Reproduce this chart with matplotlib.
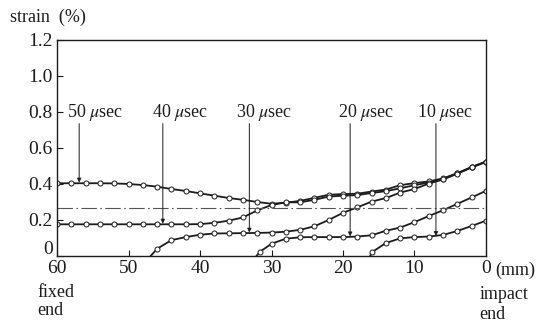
import matplotlib
matplotlib.use('Agg')
import matplotlib.pyplot as plt
import matplotlib.transforms as mtransforms
import numpy as np

plt.rcParams['font.family'] = ['Liberation Serif', 'DejaVu Serif']
plt.rcParams['mathtext.fontset'] = 'stix'

# strain along the bar (x in mm from the impact end)
x_50 = [60, 58, 56, 54, 52, 50, 48, 46, 44, 42, 40, 38, 36, 34, 32, 30, 28, 26, 24,
        22, 20, 18, 16, 14, 12, 10, 8, 6, 4, 2, 0]
s_50 = [0.404, 0.404, 0.404, 0.404, 0.403, 0.400, 0.394, 0.385, 0.372, 0.361, 0.348,
        0.335, 0.322, 0.312, 0.300, 0.290, 0.296, 0.306, 0.323, 0.340, 0.344, 0.346,
        0.358, 0.369, 0.393, 0.405, 0.414, 0.431, 0.460, 0.494, 0.524]

x_40 = x_50
s_40 = [0.176, 0.176, 0.176, 0.176, 0.176, 0.176, 0.176, 0.176, 0.176, 0.176, 0.177,
        0.184, 0.196, 0.214, 0.253, 0.283, 0.298, 0.298, 0.312, 0.330, 0.335, 0.338,
        0.350, 0.360, 0.376, 0.393, 0.408, 0.428, 0.459, 0.494, 0.524]

x_30 = [46.9, 46, 44, 42, 40, 38, 36, 34, 32, 30, 28, 26, 24, 22, 20, 18, 16, 14, 12,
        10, 8, 6, 4, 2, 0]
s_30 = [0.0, 0.040, 0.088, 0.105, 0.118, 0.125, 0.126, 0.127, 0.128, 0.130, 0.135,
        0.145, 0.165, 0.200, 0.240, 0.270, 0.302, 0.322, 0.352, 0.372, 0.402, 0.425,
        0.457, 0.492, 0.522]

x_20 = [32.1, 31.6, 30, 28, 26, 24, 22, 20, 18, 16, 14, 12, 10, 8, 6, 4, 2, 0]
s_20 = [0.0, 0.024, 0.068, 0.096, 0.104, 0.105, 0.105, 0.105, 0.108, 0.115, 0.140,
        0.158, 0.188, 0.222, 0.254, 0.290, 0.325, 0.362]

x_10 = [16.2, 16, 14, 12, 10, 8, 6, 4, 2, 0]
s_10 = [0.0, 0.020, 0.072, 0.098, 0.105, 0.108, 0.117, 0.139, 0.167, 0.196]

level = 0.265

arrow_labels = ['50 $\\mu$sec', '40 $\\mu$sec', '30 $\\mu$sec', '20 $\\mu$sec', '10 $\\mu$sec']
arrow_x = [56.9, 45.2, 33.1, 19.0, 7.0]
arrow_tip = [0.408, 0.180, 0.130, 0.109, 0.111]
label_x = [58.6, 46.7, 35.0, 20.7, 9.6]

ink = '#1c1c1c'

fig = plt.figure(figsize=(5.43, 3.22), dpi=100)
ax = fig.add_axes([0.105, 0.205, 0.790, 0.671])

curves = [(x_50, s_50), (x_40, s_40), (x_30, s_30), (x_20, s_20), (x_10, s_10)]
for xs, ss in curves:
    start = 1 if ss[0] == 0 else 0
    ax.plot(xs, ss, color=ink, lw=1.3, marker='o', ms=3.6, mfc='white',
            mec=ink, mew=0.7, markevery=slice(start, None))

ax.axhline(level, color='#555555', lw=0.8, dashes=(14, 3, 1.5, 3))

for lab, ax_x, tip, lx in zip(arrow_labels, arrow_x, arrow_tip, label_x):
    ax.annotate('', xy=(ax_x, tip), xytext=(ax_x, 0.735),
                arrowprops=dict(arrowstyle='-|>', lw=0.7, color=ink,
                                mutation_scale=6, shrinkA=0, shrinkB=0))
    ax.text(lx, 0.795, lab, ha='left', va='center', fontsize=13, color=ink)

ax.set_xlim(60, 0)
ax.set_ylim(0, 1.2)
ax.set_xticks([60, 50, 40, 30, 20, 10, 0])
ax.set_yticks([0, 0.2, 0.4, 0.6, 0.8, 1.0, 1.2])
ax.set_yticklabels(['0', '0.2', '0.4', '0.6', '0.8', '1.0', '1.2'])
ax.tick_params(direction='in', length=4, width=0.8, colors=ink, labelsize=14, pad=3)
for sp in ax.spines.values():
    sp.set_linewidth(1.0)
    sp.set_color(ink)

# the "0" on the strain axis sits a little above the bottom line
zero_lab = ax.get_yticklabels()[0]
zero_lab.set_transform(zero_lab.get_transform() +
                       mtransforms.ScaledTranslation(0, 8 / 100, fig.dpi_scale_trans))

fig.text(0.018, 0.945, 'strain  (%)', fontsize=13, color=ink, va='center')
fig.text(0.912, 0.159, '(mm)', fontsize=13, color=ink, va='center')
fig.text(0.068, 0.093, 'fixed', fontsize=13, color=ink, va='center')
fig.text(0.068, 0.037, 'end', fontsize=13, color=ink, va='center')
fig.text(0.883, 0.085, 'impact', fontsize=13, color=ink, va='center')
fig.text(0.883, 0.024, 'end', fontsize=13, color=ink, va='center')

fig.savefig('out.png', dpi=100)
